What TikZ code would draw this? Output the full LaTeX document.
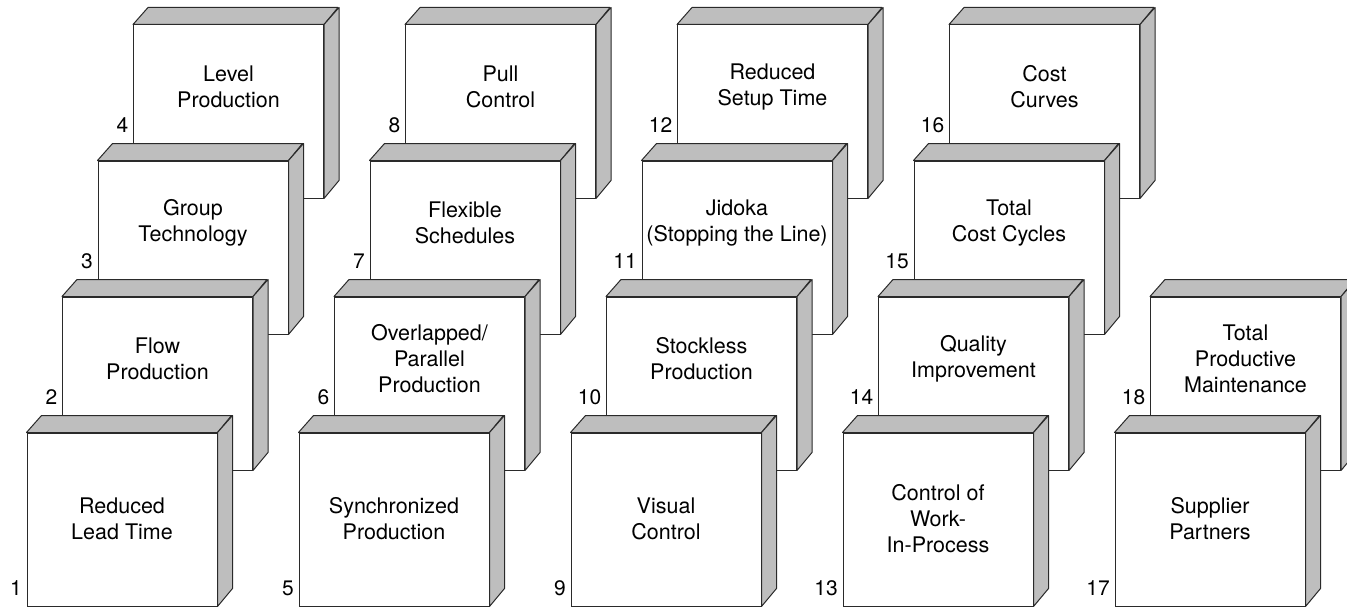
\documentclass[tikz,border=0pt]{standalone}
\usepackage{fontspec}
\setmainfont{TeX Gyre Heros}
\definecolor{facegray}{HTML}{BEBEBE}
\definecolor{edge}{HTML}{2A2A2A}
\tikzset{
  front/.style={draw=edge, fill=white, line width=1pt, minimum width=190pt, minimum height=173pt, inner sep=0pt, line join=round},
  side/.style={draw=edge, fill=facegray, line width=1pt, line join=round},
  label/.style={align=center, inner sep=0pt, font=\fontsize{21.5}{26}\selectfont},
  num/.style={anchor=east, inner sep=0pt, font=\fontsize{21}{24}\selectfont}
}
% #1 name, #2 left x, #3 top y, #4 text, #5 number, #6 text offset from top, #7 number offset from top
\newcommand{\cubebox}[7]{%
  \pgfmathsetmacro{\cx}{#2+95}%
  \pgfmathsetmacro{\cy}{#3+86.5}%
  \pgfmathsetmacro{\ty}{#3+#6}%
  \pgfmathsetmacro{\nx}{#2-5}%
  \pgfmathsetmacro{\ny}{#3+#7}%
  \node[front] (#1) at (\cx,\cy) {};
  \draw[side] (#1.north west) -- ++(15,-17) -- ++(190,0) -- (#1.north east) -- cycle;
  \draw[side] (#1.north east) -- ++(15,-17) -- ++(0,173) -- (#1.south east) -- cycle;
  \node[front] at (#1) {};
  \node[label] (#1t) at (\cx,\ty) {#4};
  \node[num] (#1n) at (\nx,\ny) {#5};
}
\begin{document}
\begin{tikzpicture}[x=1pt,y=-1pt]
\useasboundingbox (0,0) rectangle (1347,610);
\clip (0,0) rectangle (1347,610);
% row 4
\cubebox{b4}{133.5}{25}{Level\\Production}{4}{62}{100}
\cubebox{b8}{405.5}{25}{Pull\\Control}{8}{62}{100}
\cubebox{b12}{677.5}{25}{Reduced\\Setup Time}{12}{62}{100}
\cubebox{b16}{949.5}{25}{Cost\\Curves}{16}{62}{100}
% row 3
\cubebox{b3}{98}{161}{Group\\Technology}{3}{62}{100}
\cubebox{b7}{370}{161}{Flexible\\Schedules}{7}{62}{100}
\cubebox{b11}{642}{161}{Jidoka\\(Stopping the Line)}{11}{62}{100}
\cubebox{b15}{914}{161}{Total\\Cost Cycles}{15}{62}{100}
% row 2
\cubebox{b2}{62.5}{297}{Flow\\Production}{2}{62}{100}
\cubebox{b6}{334.5}{297}{Overlapped/\\Parallel\\Production}{6}{62}{100}
\cubebox{b10}{606.5}{297}{Stockless\\Production}{10}{62}{100}
\cubebox{b14}{878.5}{297}{Quality\\Improvement}{14}{62}{100}
\cubebox{b18}{1150.5}{297}{Total\\Productive\\Maintenance}{18}{62}{100}
% row 1
\cubebox{b1}{27}{433}{Reduced\\Lead Time}{1}{86}{155}
\cubebox{b5}{299}{433}{Synchronized\\Production}{5}{86}{155}
\cubebox{b9}{571}{433}{Visual\\Control}{9}{86}{155}
\cubebox{b13}{843}{433}{Control of\\Work-\\In-Process}{13}{86}{155}
\cubebox{b17}{1115}{433}{Supplier\\Partners}{17}{86}{155}
\end{tikzpicture}
\end{document}
